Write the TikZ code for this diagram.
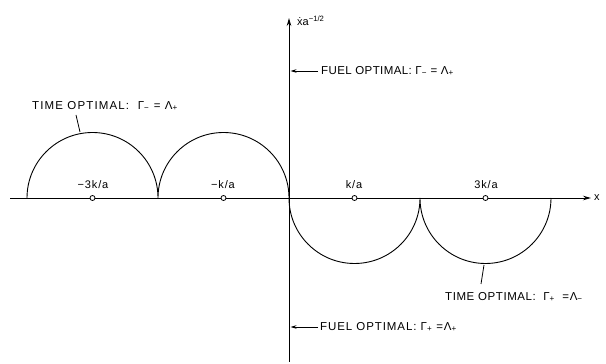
\documentclass[tikz,border=0pt]{standalone}
\usepackage{fontspec}
\setmainfont{Liberation Sans}
\usetikzlibrary{arrows.meta}
\tikzset{
  axisline/.style={line width=0.9pt,-{Stealth[length=8pt,width=4.5pt]}},
  curve/.style={line width=0.9pt},
  pointer/.style={line width=0.8pt},
  fuelarrow/.style={line width=0.8pt,-{Stealth[length=6pt,width=3.5pt]}},
  marker/.style={circle,draw,fill=white,line width=0.8pt,inner sep=0pt,minimum size=5pt},
  lbl/.style={font=\fontsize{11.5}{13}\selectfont,inner sep=0pt},
  tick/.style={font=\fontsize{11}{13}\selectfont\addfontfeature{LetterSpace=8},inner sep=0pt}
}
\begin{document}
\begin{tikzpicture}[x=1pt,y=1pt]
\useasboundingbox (0,0) rectangle (606,364);
% axes
\coordinate (xs) at (10,166);
\coordinate (xe) at (591,166);
\coordinate (ys) at (289,2);
\coordinate (ye) at (289,346);
\draw[axisline] (xs) -- (xe);
\draw[axisline] (ys) -- (ye);
\node[tick,anchor=west] (xlab) at (594,166) {x};
\node[inner sep=0pt,anchor=west,font=\fontsize{11}{13}\selectfont] (ylab) at (297,343) {ẋa\textsuperscript{−1/2}};
% arcs
\draw[curve] (27,166) arc[start angle=180,end angle=0,radius=65.5]
                      arc[start angle=180,end angle=0,radius=65.5];
\draw[curve] (289,166) arc[start angle=180,end angle=360,radius=65.5]
                       arc[start angle=180,end angle=360,radius=65.5];
% markers
\node[marker] (m1) at (92.5,166) {};
\node[marker] (m2) at (223.5,166) {};
\node[marker] (m3) at (354.5,166) {};
\node[marker] (m4) at (485.5,166) {};
\node[tick] (t1) at (93,179) {−3k/a};
\node[tick] (t2) at (223,179) {−k/a};
\node[tick] (t3) at (354,179) {k/a};
\node[tick] (t4) at (486,179) {3k/a};
% labels
\node[lbl,anchor=west] (tl) at (32,258) {\addfontfeature{LetterSpace=10}TIME OPTIMAL:\ \ Γ\textsubscript{−} = Λ\textsubscript{+}};
\node[lbl,anchor=west] (fu) at (321,293) {\addfontfeature{LetterSpace=3.5}FUEL OPTIMAL:\ Γ\textsubscript{−} = Λ\textsubscript{+}};
\node[lbl,anchor=west] (tr) at (445,67) {\addfontfeature{LetterSpace=5}TIME OPTIMAL:\ \ Γ\textsubscript{+}\ \ =Λ\textsubscript{−}};
\node[lbl,anchor=west] (fl) at (320,37) {\addfontfeature{LetterSpace=8}FUEL OPTIMAL:\ Γ\textsubscript{+}\ =Λ\textsubscript{+}};
% pointers
\coordinate (p1s) at (76,249);
\coordinate (p1e) at (80,232);
\draw[pointer] (p1s) -- (p1e);
\coordinate (p2s) at (481,80);
\coordinate (p2e) at (484,99);
\draw[pointer] (p2s) -- (p2e);
\coordinate (f1s) at (318,293);
\coordinate (f1e) at (290.5,293);
\draw[fuelarrow] (f1s) -- (f1e);
\coordinate (f2s) at (318,37);
\coordinate (f2e) at (290.5,37);
\draw[fuelarrow] (f2s) -- (f2e);
\end{tikzpicture}
\end{document}
